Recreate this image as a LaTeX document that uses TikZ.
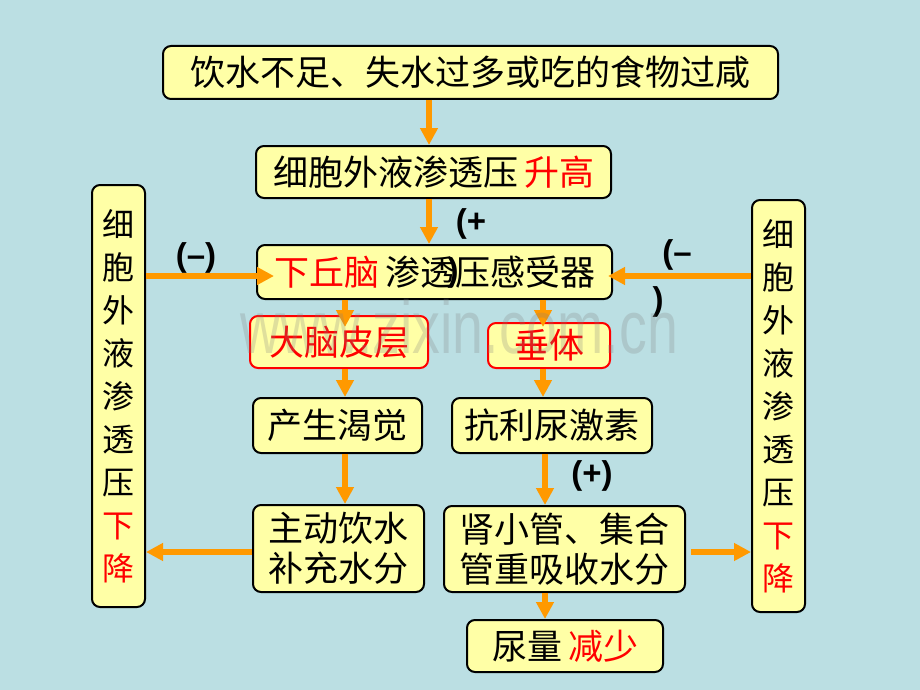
\documentclass[tikz,border=0pt]{standalone}
\usepackage{fontspec}
\setmainfont{Liberation Sans}
\newfontfamily\cjk{Noto Sans CJK SC}
\usetikzlibrary{arrows.meta,calc}
\definecolor{bgc}{RGB}{187,223,227}
\definecolor{boxy}{RGB}{255,255,166}
\definecolor{arrc}{RGB}{255,153,0}
\begin{document}
\begin{tikzpicture}[x=1pt,y=-1pt,
  box/.style={draw=black, line width=2pt, fill=boxy, rounded corners=8pt, inner sep=0pt,
    font=\cjk\fontsize{35}{40}\selectfont, align=center},
  rbox/.style={box, draw=red, text=red},
  vbox/.style={box, font=\cjk\fontsize{32}{43}\selectfont},
  arr/.style={draw=arrc, line width=5.5pt, -{Triangle[length=17pt,width=17pt]}},
  sign/.style={font=\bfseries\fontsize{33}{34}\selectfont, inner sep=0pt}
]
\fill[bgc] (0,0) rectangle (920,690);
\useasboundingbox (0,0) rectangle (920,690);

\node[box, minimum width=615pt, minimum height=53pt] (b1) at (470.5,72.5) {饮水不足、失水过多或吃的食物过咸};
\node[box, minimum width=355pt, minimum height=52pt] (b2) at (433.5,172) {细胞外液渗透压\hspace{6pt}\textcolor{red}{升高}};
\node[box, minimum width=355pt, minimum height=54pt] (b3) at (434.5,272) {\textcolor{red}{下丘脑}\hspace{6pt}渗透压感受器};
\node[vbox, minimum width=53pt, minimum height=422pt] (L) at (118.5,396) {细\\胞\\外\\液\\渗\\透\\压\\\textcolor{red}{下}\\\textcolor{red}{降}};
\node[vbox, minimum width=53pt, minimum height=412pt] (R) at (778.5,406) {细\\胞\\外\\液\\渗\\透\\压\\\textcolor{red}{下}\\\textcolor{red}{降}};
\node[rbox, minimum width=178pt, minimum height=52pt] (cortex) at (339,342) {大脑皮层};
\node[rbox, minimum width=122pt, minimum height=45pt] (pit) at (549,345.5) {垂体};
\node[box, minimum width=169pt, minimum height=55pt] (thirst) at (337.5,425.5) {产生渴觉};
\node[box, minimum width=171pt, minimum height=87pt] (drink) at (338.5,548.5) {主动饮水\\补充水分};
\node[box, minimum width=200pt, minimum height=55pt] (adh) at (552,425.5) {抗利尿激素};
\node[box, minimum width=241pt, minimum height=86pt] (kid) at (564.5,549) {肾小管、集合\\管重吸收水分};
\node[box, minimum width=196pt, minimum height=52pt] (urine) at (565,646) {尿量\hspace{6pt}\textcolor{red}{减少}};

\coordinate (xT) at (429,0);
\coordinate (xL) at (345,0);
\coordinate (xR) at (543,0);
\coordinate (xR2) at (545,0);
\coordinate (yA) at (0,276);
\coordinate (yB) at (0,552);

\draw[arr] (b1.south -| xT) -- (b2.north -| xT);
\draw[arr] (b2.south -| xT) -- (b3.north -| xT);
\draw[arr] (L.east |- yA) -- ($(b3.west |- yA)+(18,0)$);
\draw[arr] (R.west |- yA) -- ($(b3.east |- yA)+(-5,0)$);
\draw[arr] (b3.south -| xL) -- ($(cortex.north -| xL)+(0,12)$);
\draw[arr] (cortex.south -| xL) -- (thirst.north -| xL);
\draw[arr] (thirst.south -| xL) -- (drink.north -| xL);
\draw[arr] (b3.south -| xR) -- ($(pit.north -| xR)+(0,5)$);
\draw[arr] (pit.south -| xR) -- (adh.north -| xR);
\draw[arr] (adh.south -| xR2) -- (kid.north -| xR2);
\draw[arr] (kid.south -| xR2) -- (urine.north -| xR2);
\draw[arr] (drink.west |- yB) -- (L.east |- yB);
\draw[arr] ($(kid.east |- yB)+(5,0)$) -- (R.west |- yB);

\node[sign] (s1) at (471,224) {(+};
\node[sign] (s1b) at (453,273) {)};
\node[sign] (s2) at (196,258) {(–)};
\node[sign] (s3) at (677,255) {(–};
\node[sign] (s3b) at (658,302) {)};
\node[sign] (s4) at (592,476) {(+)};

\node[opacity=0.25, text=gray, font=\fontsize{75}{75}\selectfont, xscale=0.74, anchor=base] (wm) at (459,353) {www.zixin.com.cn};
\end{tikzpicture}
\end{document}
